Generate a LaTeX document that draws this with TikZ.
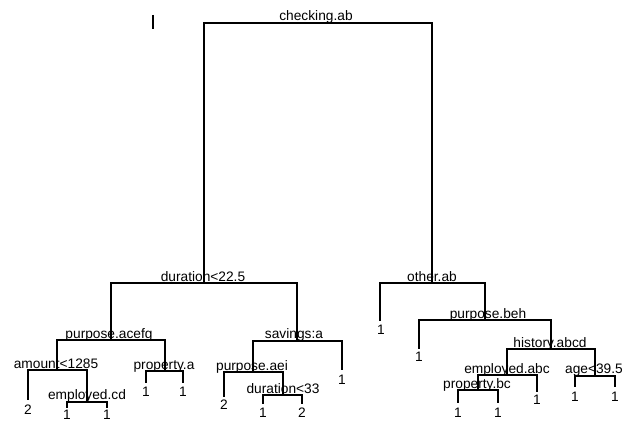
\documentclass[tikz,border=0pt]{standalone}
\usepackage{fontspec}
\setmainfont{Liberation Sans}
\begin{document}
\begin{tikzpicture}[x=0.75pt,y=-0.75pt,
  edge/.style={line width=0.9pt,black},
  split/.style={anchor=base,inner sep=0pt,font=\fontsize{10.3}{12}\selectfont},
  leaf/.style={anchor=center,inner sep=0pt,font=\fontsize{10.3}{12}\selectfont}]
\useasboundingbox (0,0) rectangle (624,423);
% split points
\coordinate (r) at (318,23);
\coordinate (d) at (204,283);
\coordinate (pa) at (111,340);
\coordinate (am) at (57,370);
\coordinate (ec) at (87,402);
\coordinate (pr) at (165,371);
\coordinate (sv) at (297,341);
\coordinate (pe) at (253,372);
\coordinate (d33) at (283,395);
\coordinate (o) at (432,283);
\coordinate (pb) at (485,320);
\coordinate (h) at (551,349);
\coordinate (ea) at (507,375);
\coordinate (pc) at (478,390);
\coordinate (ag) at (595,376);
% leaf ends
\coordinate (l1) at (28,400);
\coordinate (l2) at (67,408);
\coordinate (l3) at (107,408);
\coordinate (l4) at (146,383);
\coordinate (l5) at (183,383);
\coordinate (l6) at (224,397);
\coordinate (l7) at (263,404);
\coordinate (l8) at (302,404);
\coordinate (l9) at (342,370);
\coordinate (l10) at (380,321);
\coordinate (l11) at (419,349);
\coordinate (l12) at (458,403);
\coordinate (l13) at (498,403);
\coordinate (l14) at (537,392);
\coordinate (l15) at (575,387);
\coordinate (l16) at (615,387);
% edges
\draw[edge] (d) |- (r) -| (o);
\draw[edge] (pa) |- (d) -| (sv);
\draw[edge] (am) |- (pa) -| (pr);
\draw[edge] (l1) |- (am) -| (ec);
\draw[edge] (l2) |- (ec) -| (l3);
\draw[edge] (l4) |- (pr) -| (l5);
\draw[edge] (pe) |- (sv) -| (l9);
\draw[edge] (l6) |- (pe) -| (d33);
\draw[edge] (l7) |- (d33) -| (l8);
\draw[edge] (l10) |- (o) -| (pb);
\draw[edge] (l11) |- (pb) -| (h);
\draw[edge] (ea) |- (h) -| (ag);
\draw[edge] (pc) |- (ea) -| (l14);
\draw[edge] (l12) |- (pc) -| (l13);
\draw[edge] (l15) |- (ag) -| (l16);
% mark
\coordinate (m1) at (153,15);
\coordinate (m2) at (153,29);
\draw[line width=1.5pt] (m1) -- (m2);
% split labels
\node[split] (tr) at (316,21) {checking.ab};
\node[split] (td) at (203,282) {duration<22.5};
\node[split] (tpa) at (109,339) {purpose.acefg};
\node[split] (tam) at (56,369) {amount<1285};
\node[split] (tec) at (87,400) {employed.cd};
\node[split] (tpr) at (164,370) {property.a};
\node[split] (tsv) at (294,339) {savings:a};
\node[split] (tpe) at (252,371) {purpose.aei};
\node[split] (td33) at (283,394) {duration<33};
\node[split] (to) at (432,282) {other.ab};
\node[split] (tpb) at (488,319) {purpose.beh};
\node[split] (th) at (550,348) {history.abcd};
\node[split] (tea) at (507,374) {employed.abc};
\node[split] (tpc) at (477,389) {property.bc};
\node[split] (tag) at (594,374) {age<39.5};
% leaf labels
\node[leaf] (t1) at (28,410) {2};
\node[leaf] (t2) at (67,415) {1};
\node[leaf] (t3) at (107,415) {1};
\node[leaf] (t4) at (146,392) {1};
\node[leaf] (t5) at (183,392) {1};
\node[leaf] (t6) at (224,405) {2};
\node[leaf] (t7) at (263,413) {1};
\node[leaf] (t8) at (302,413) {2};
\node[leaf] (t9) at (342,380) {1};
\node[leaf] (t10) at (381,330) {1};
\node[leaf] (t11) at (419,357) {1};
\node[leaf] (t12) at (458,413) {1};
\node[leaf] (t13) at (498,413) {1};
\node[leaf] (t14) at (537,400) {1};
\node[leaf] (t15) at (575,397) {1};
\node[leaf] (t16) at (615,397) {1};
\end{tikzpicture}
\end{document}
